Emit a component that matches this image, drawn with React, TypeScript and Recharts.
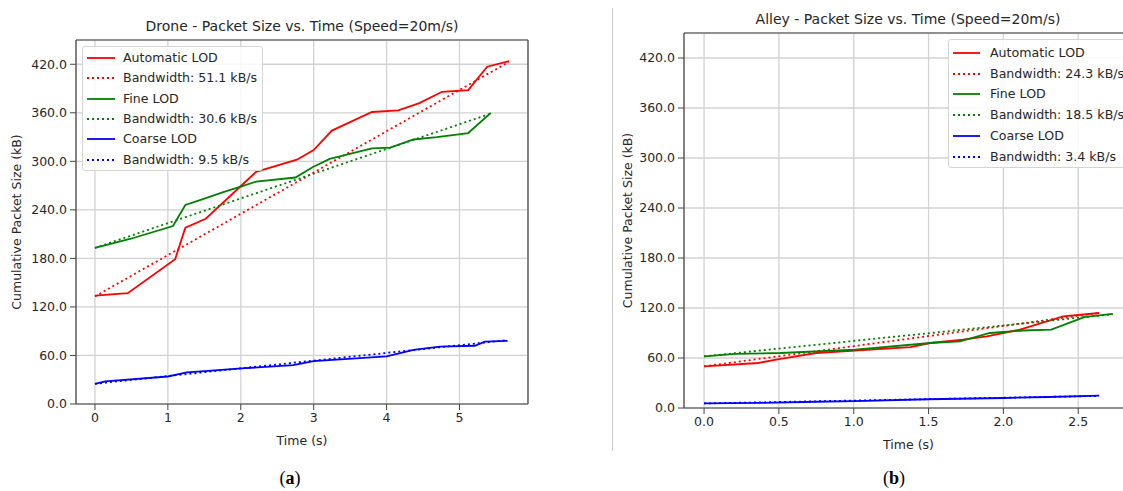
import React from 'react';
import { LineChart, Line, XAxis, YAxis, CartesianGrid, ReferenceLine, Legend } from 'recharts';

const FONT = '"DejaVu Sans", sans-serif';
const TEXT = '#262626';
const RED = '#ff0000';
const GREEN = '#008000';
const BLUE = '#0000ff';

// ---------- Drone (a) ----------
const droneAutoTime = [0, 0.45, 1.1, 1.24, 1.52, 2.21, 2.77, 3.0, 3.25, 3.8, 4.16, 4.45, 4.76, 5.12, 5.38, 5.68];
const droneAutoSize = [134, 137, 179, 218, 229, 287, 302, 314, 338, 361, 363, 372, 386, 388, 417, 424];
const droneAutoFitTime = [0, 5.68];
const droneAutoFitSize = [133, 423];

const droneFineTime = [0, 0.48, 1.07, 1.24, 1.44, 1.76, 2.01, 2.21, 2.75, 2.99, 3.22, 3.8, 4.05, 4.37, 4.69, 5.12, 5.43];
const droneFineSize = [193, 204, 220, 246, 252, 262, 269, 275, 280, 293, 303, 316, 317, 327, 330, 335, 360];
const droneFineFitTime = [0, 5.43];
const droneFineFitSize = [193, 359];

const droneCoarseTime = [0, 0.14, 1.0, 1.26, 1.55, 2.01, 2.72, 3.0, 4.0, 4.37, 4.73, 5.21, 5.35, 5.66];
const droneCoarseSize = [25, 28, 34, 39, 41, 44, 48, 53, 59, 67, 71, 72, 77, 78];
const droneCoarseFitTime = [0, 5.66];
const droneCoarseFitSize = [25, 79];

const droneLegend = ['Automatic LOD', 'Bandwidth: 51.1 kB/s', 'Fine LOD', 'Bandwidth: 30.6 kB/s', 'Coarse LOD', 'Bandwidth: 9.5 kB/s'];

// ---------- Alley (b) ----------
const alleyAutoTime = [0, 0.36, 0.51, 0.75, 1.01, 1.38, 1.51, 1.73, 1.89, 2.11, 2.4, 2.64];
const alleyAutoSize = [50, 54, 59, 66, 69, 73, 78, 82, 86, 94, 110, 114];
const alleyAutoFitTime = [0, 2.64];
const alleyAutoFitSize = [50, 114];

const alleyFineTime = [0, 0.21, 0.51, 1.01, 1.51, 1.71, 1.91, 2.13, 2.32, 2.54, 2.73];
const alleyFineSize = [62, 65, 66, 70, 78, 80, 90, 93, 94, 109, 113];
const alleyFineFitTime = [0, 2.73];
const alleyFineFitSize = [62, 112.5];

const alleyCoarseTime = [0, 0.37, 0.75, 1.0, 1.5, 2.0, 2.3, 2.64];
const alleyCoarseSize = [5.5, 6.2, 7.5, 8.3, 10.5, 12, 13.2, 14.8];
const alleyCoarseFitTime = [0, 2.64];
const alleyCoarseFitSize = [5.5, 14.5];

const alleyLegend = ['Automatic LOD', 'Bandwidth: 24.3 kB/s', 'Fine LOD', 'Bandwidth: 18.5 kB/s', 'Coarse LOD', 'Bandwidth: 3.4 kB/s'];

// ---------- ticks ----------
const yTicks = [0, 60, 120, 180, 240, 300, 360, 420];
const droneXTicks = [0, 1, 2, 3, 4, 5];
const alleyXTicks = [0, 0.5, 1.0, 1.5, 2.0, 2.5];

const toPts = (t: number[], v: number[]) => t.map((x, i) => ({ t: x, v: v[i] }));

type Series = { name: string; data: { t: number; v: number }[]; color: string; dotted: boolean };

const droneSeries: Series[] = [
  { name: droneLegend[0], data: toPts(droneAutoTime, droneAutoSize), color: RED, dotted: false },
  { name: droneLegend[1], data: toPts(droneAutoFitTime, droneAutoFitSize), color: RED, dotted: true },
  { name: droneLegend[2], data: toPts(droneFineTime, droneFineSize), color: GREEN, dotted: false },
  { name: droneLegend[3], data: toPts(droneFineFitTime, droneFineFitSize), color: GREEN, dotted: true },
  { name: droneLegend[4], data: toPts(droneCoarseTime, droneCoarseSize), color: BLUE, dotted: false },
  { name: droneLegend[5], data: toPts(droneCoarseFitTime, droneCoarseFitSize), color: BLUE, dotted: true },
];

const alleySeries: Series[] = [
  { name: alleyLegend[0], data: toPts(alleyAutoTime, alleyAutoSize), color: RED, dotted: false },
  { name: alleyLegend[1], data: toPts(alleyAutoFitTime, alleyAutoFitSize), color: RED, dotted: true },
  { name: alleyLegend[2], data: toPts(alleyFineTime, alleyFineSize), color: GREEN, dotted: false },
  { name: alleyLegend[3], data: toPts(alleyFineFitTime, alleyFineFitSize), color: GREEN, dotted: true },
  { name: alleyLegend[4], data: toPts(alleyCoarseTime, alleyCoarseSize), color: BLUE, dotted: false },
  { name: alleyLegend[5], data: toPts(alleyCoarseFitTime, alleyCoarseFitSize), color: BLUE, dotted: true },
];

const LegendBox = ({ series, rowStart, rowGap, width, height, textX, lineEnd }: any) => (
  <div
    style={{
      position: 'relative',
      width,
      height,
      boxSizing: 'border-box',
      border: '1px solid #d4d4d4',
      borderRadius: 3,
      background: 'rgba(255,255,255,0.85)',
      fontFamily: FONT,
      fontSize: 12.6,
      color: TEXT,
    }}
  >
    {series.map((s: Series, i: number) => {
      const cy = rowStart + i * rowGap;
      return (
        <div key={s.name}>
          <svg style={{ position: 'absolute', left: 0, top: cy - 4 }} width={lineEnd + 2} height={8}>
            <line
              x1={4}
              x2={lineEnd}
              y1={4}
              y2={4}
              stroke={s.color}
              strokeWidth={1.8}
              strokeDasharray={s.dotted ? '2 3' : undefined}
            />
          </svg>
          <div style={{ position: 'absolute', left: textX, top: cy - 8, lineHeight: '16px', whiteSpace: 'nowrap' }}>
            {s.name}
          </div>
        </div>
      );
    })}
  </div>
);

const Panel = ({ series, xDomain, xTicks, xFmt, width, margin, legend, rightSpine, yLabelOffset }: any) => (
  <LineChart width={width} height={491} margin={margin}>
    <CartesianGrid stroke="#d2d2d2" strokeWidth={1.3} />
    <XAxis
      type="number"
      dataKey="t"
      domain={xDomain}
      ticks={xTicks}
      allowDataOverflow
      height={45}
      tickSize={6}
      tickMargin={3}
      tickFormatter={xFmt}
      axisLine={{ stroke: '#444', strokeWidth: 1.2 }}
      tickLine={{ stroke: '#444', strokeWidth: 1 }}
      tick={{ fill: TEXT, fontSize: 12.5, fontFamily: FONT }}
      label={{ value: 'Time (s)', position: 'insideBottom', offset: 4, fill: TEXT, fontSize: 12.5, fontFamily: FONT }}
    />
    <YAxis
      type="number"
      domain={[0, 450]}
      ticks={yTicks}
      allowDataOverflow
      width={60}
      tickSize={6}
      tickMargin={3}
      tickFormatter={(v: number) => v.toFixed(1)}
      axisLine={{ stroke: '#444', strokeWidth: 1.2 }}
      tickLine={{ stroke: '#444', strokeWidth: 1 }}
      tick={{ fill: TEXT, fontSize: 12.5, fontFamily: FONT }}
      label={{
        value: 'Cumulative Packet Size (kB)',
        angle: -90,
        position: 'insideLeft',
        offset: yLabelOffset,
        fill: TEXT,
        fontSize: 12.5,
        fontFamily: FONT,
        style: { textAnchor: 'middle' },
      }}
    />
    <ReferenceLine y={450} stroke="#444" strokeWidth={1.2} />
    {rightSpine !== undefined && <ReferenceLine x={rightSpine} stroke="#444" strokeWidth={1.2} />}
    {series.map((s: Series) => (
      <Line
        key={s.name}
        name={s.name}
        data={s.data}
        dataKey="v"
        type="linear"
        stroke={s.color}
        strokeWidth={1.8}
        strokeDasharray={s.dotted ? '2 3' : undefined}
        dot={false}
        activeDot={false}
        isAnimationActive={false}
      />
    ))}
    <Legend
      layout="horizontal"
      verticalAlign="middle"
      align="center"
      content={() => <LegendBox series={series} {...legend} />}
      wrapperStyle={{ position: 'absolute', left: legend.left, top: legend.top, width: legend.width, height: legend.height, margin: 0 }}
    />
  </LineChart>
);

const titleStyle: React.CSSProperties = {
  position: 'absolute',
  fontFamily: FONT,
  fontSize: 14,
  color: TEXT,
  whiteSpace: 'nowrap',
  textAlign: 'center',
  lineHeight: '16px',
  width: 500,
};

const capStyle: React.CSSProperties = {
  position: 'absolute',
  fontFamily: '"Liberation Serif", "DejaVu Serif", serif',
  fontSize: 18,
  color: '#000',
  width: 60,
  textAlign: 'center',
  lineHeight: '20px',
};

export default function App() {
  return (
    <div style={{ position: 'fixed', left: 0, top: 0, width: 1123, height: 491, overflow: 'hidden', background: '#fff' }}>
      <div style={{ position: 'absolute', left: 0, top: 0 }}>
        <Panel
          series={droneSeries}
          xDomain={[-0.26, 5.94]}
          xTicks={droneXTicks}
          xFmt={(v: number) => String(v)}
          width={560}
          margin={{ top: 40, right: 32, left: 16, bottom: 42 }}
          rightSpine={5.94}
          yLabelOffset={1}
          legend={{ left: 82, top: 46, width: 181, height: 125, rowStart: 11, rowGap: 20.3, textX: 40, lineEnd: 32 }}
        />
      </div>
      <div style={{ position: 'absolute', left: 560, top: 0 }}>
        <Panel
          series={alleySeries}
          xDomain={[-0.134, 2.866]}
          xTicks={alleyXTicks}
          xFmt={(v: number) => v.toFixed(1)}
          width={600}
          margin={{ top: 33, right: 27, left: 64, bottom: 38 }}
          yLabelOffset={4}
          legend={{ left: 388, top: 39, width: 185, height: 129, rowStart: 13, rowGap: 20.7, textX: 41, lineEnd: 31 }}
        />
      </div>
      <div style={{ ...titleStyle, left: 302 - 250, top: 18 }}>Drone - Packet Size vs. Time (Speed=20m/s)</div>
      <div style={{ ...titleStyle, left: 908 - 250, top: 11 }}>Alley - Packet Size vs. Time (Speed=20m/s)</div>
      <div style={{ position: 'absolute', left: 612, top: 8, width: 1, height: 443, background: '#c8c8c8' }} />
      <div style={{ ...capStyle, left: 290 - 30, top: 468 }}>
        (<b>a</b>)
      </div>
      <div style={{ ...capStyle, left: 894 - 30, top: 468 }}>
        (<b>b</b>)
      </div>
    </div>
  );
}
